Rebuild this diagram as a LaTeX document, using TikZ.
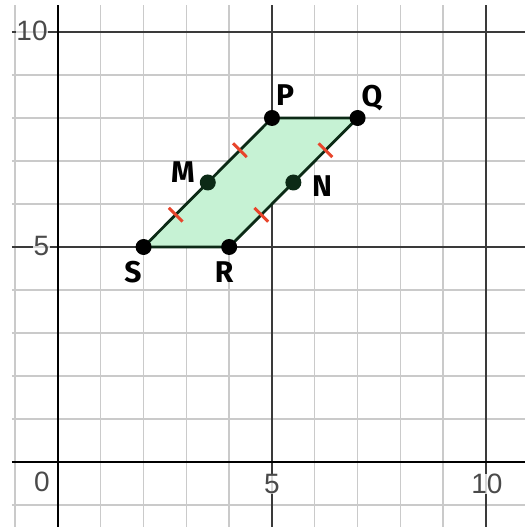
\documentclass[tikz,border=0pt]{standalone}
\usepackage{fontspec}
\setmainfont{Liberation Sans}
\newfontfamily\handfont{Fira Sans}
\usetikzlibrary{calc}
\definecolor{gridminor}{HTML}{CACACA}
\definecolor{gridmajor}{HTML}{3A3A3A}
\definecolor{shapefill}{RGB}{198,242,212}
\definecolor{shapeedge}{HTML}{0C2A16}
\definecolor{tickred}{HTML}{E8452C}
\definecolor{numgray}{HTML}{4A4A4A}
\tikzset{
  minor/.style={draw=gridminor, line width=1.4pt},
  major/.style={draw=gridmajor, line width=1.6pt},
  axisline/.style={draw=black, line width=2.6pt},
  edge/.style={draw=shapeedge, line width=2.8pt, line join=round},
  dot/.style={circle, fill=black, minimum size=16pt, inner sep=0pt},
  mdot/.style={circle, fill=shapeedge, minimum size=16pt, inner sep=0pt},
  hashmark/.style={draw=tickred, line width=3pt},
  lab/.style={font=\handfont\bfseries\fontsize{30}{30}\selectfont, text=black, inner sep=0pt},
  num/.style={font=\fontsize{28}{28}\selectfont, text=numgray, fill=white, fill opacity=0.8, text opacity=1, inner sep=0.5pt}
}
\begin{document}
\begin{tikzpicture}[x=42.8pt,y=43pt]
\useasboundingbox (-1.355,-1.512) rectangle (10.911,10.744);
\fill[white] (-1.355,-1.512) rectangle (10.911,10.744);
% minor grid
\foreach \i in {-1,...,10} \draw[minor] (\i,-1.52) -- (\i,10.628);
\foreach \j in {-1,...,10} \draw[minor] (-1.075,\j) -- (10.92,\j);
% major grid
\foreach \i in {5,10} \draw[major] (\i,-1.52) -- (\i,10.628);
\foreach \j in {5,10} \draw[major] (-1.075,\j) -- (10.92,\j);
% axes
\draw[axisline] (0,-1.52) -- (0,10.628);
\draw[axisline] (-1.075,0) -- (10.92,0);
% axis numbers
\node[num] (ny10) at (-0.607,10.023) {10};
\node[num] (ny5) at (-0.386,5.023) {5};
\node[num] (n0) at (-0.374,-0.465) {0};
\node[num] (nx5) at (5.0,-0.512) {5};
\node[num] (nx10) at (10.023,-0.512) {10};
% parallelogram
\coordinate (cS) at (2,5);
\coordinate (cR) at (4,5);
\coordinate (cQ) at (7,8);
\coordinate (cP) at (5,8);
\coordinate (cM) at (3.5,6.5);
\coordinate (cN) at (5.5,6.5);
\fill[shapefill] (cS) -- (cR) -- (cQ) -- (cP) -- cycle;
\draw[edge] (cS) -- (cR) -- (cQ) -- (cP) -- cycle;
% tick marks
\foreach \a/\b in {cS/cM, cM/cP, cR/cN, cN/cQ}
  \draw[hashmark] ($(\a)!0.5!(\b)$) +(-0.16,0.16) -- +(0.16,-0.16);
% points
\node[dot] (S) at (cS) {};
\node[dot] (R) at (cR) {};
\node[dot] (P) at (cP) {};
\node[dot] (Q) at (cQ) {};
\node[mdot] (M) at (cM) {};
\node[mdot] (N) at (cN) {};
% labels
\node[lab] (lS) at (1.752,4.419) {S};
\node[lab] (lR) at (3.879,4.419) {R};
\node[lab] (lP) at (5.304,8.535) {P};
\node[lab] (lQ) at (7.336,8.465) {Q};
\node[lab] (lM) at (2.921,6.744) {M};
\node[lab] (lN) at (6.168,6.419) {N};
\end{tikzpicture}
\end{document}
